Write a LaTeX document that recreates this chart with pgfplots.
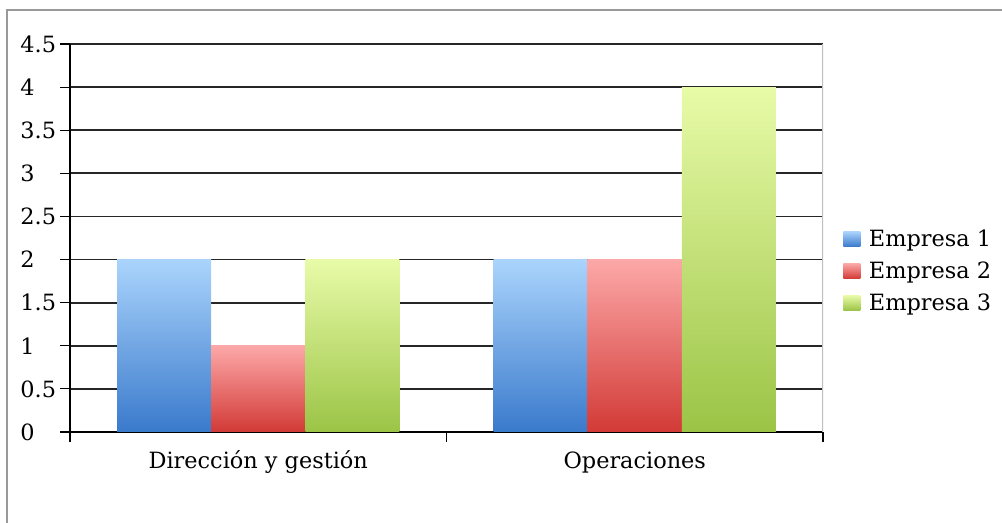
\documentclass[border=0pt]{standalone}
\usepackage{pgfplots}
\pgfplotsset{compat=1.18}
\usepackage{fontspec}
\setmainfont{DejaVu Serif}
\definecolor{bluetop}{RGB}{170,212,252}
\definecolor{bluebot}{RGB}{58,122,204}
\definecolor{redtop}{RGB}{252,168,168}
\definecolor{redbot}{RGB}{210,58,54}
\definecolor{greentop}{RGB}{232,251,168}
\definecolor{greenbot}{RGB}{155,196,70}
\begin{document}
\begin{tikzpicture}
\useasboundingbox (0pt,0pt) rectangle (751.5pt,392.25pt);
\draw[black!40, line width=1.1pt] (5.25pt,-5pt) -- (5.25pt,384.75pt) -- (760pt,384.75pt);
\begin{axis}[
  at={(52.5pt,68.25pt)}, anchor=south west,
  scale only axis, width=564.75pt, height=291pt,
  xmin=-0.5, xmax=1.5, ymin=0, ymax=4.5,
  axis lines*=left,
  axis line style={black, line width=0.9pt},
  ytick={0,0.5,1,1.5,2,2.5,3,3.5,4,4.5},
  yticklabels={0,0.5,1,1.5,2,2.5,3,3.5,4,4.5},
  xtick={-0.5,0.5,1.5},
  xticklabels={},
  extra x ticks={0,1},
  extra x tick labels={Dirección y gestión,Operaciones},
  extra x tick style={major tick length=0pt, grid=none},
  tick align=outside,
  major tick length=7.5pt,
  tick style={black, line width=0.8pt},
  ymajorgrids,
  major grid style={black!85, line width=1.4pt},
  tick label style={font=\fontsize{16.8}{19}\selectfont},
  yticklabel style={text width=29.5pt, align=left, inner sep=0pt},
  xticklabel style={yshift=-11pt, text height=13pt, text depth=4pt},
  /pgf/number format/assume math mode=true,
  legend style={at={(1,0.415)}, anchor=west, xshift=15pt, draw=none, fill=none,
    font=\fontsize{16.8}{19}\selectfont, row sep=6pt, inner sep=0pt,
    /tikz/every odd column/.append style={column sep=4.5pt}},
  legend cell align=left,
  legend image code/.code={\path[#1, draw=none] (0pt,-5.6pt) rectangle (12.75pt,5.6pt);},
]
\draw[black!25, line width=0.8pt] (rel axis cs:1,0) -- (rel axis cs:1,1);
\addplot[ybar, bar width=0.25, bar shift=-0.25, draw=none, top color=bluetop, bottom color=bluebot] coordinates {(0,2)};
\addlegendentry{Empresa 1}
\addplot[ybar, bar width=0.25, bar shift=0, draw=none, top color=redtop, bottom color=redbot] coordinates {(0,1)};
\addlegendentry{Empresa 2}
\addplot[ybar, bar width=0.25, bar shift=0.25, draw=none, top color=greentop, bottom color=greenbot] coordinates {(0,2)};
\addlegendentry{Empresa 3}
\addplot[forget plot, ybar, bar width=0.25, bar shift=-0.25, draw=none, top color=bluetop, bottom color=bluebot] coordinates {(1,2)};
\addplot[forget plot, ybar, bar width=0.25, bar shift=0, draw=none, top color=redtop, bottom color=redbot] coordinates {(1,2)};
\addplot[forget plot, ybar, bar width=0.25, bar shift=0.25, draw=none, top color=greentop, bottom color=greenbot] coordinates {(1,4)};
\end{axis}
\end{tikzpicture}
\end{document}
